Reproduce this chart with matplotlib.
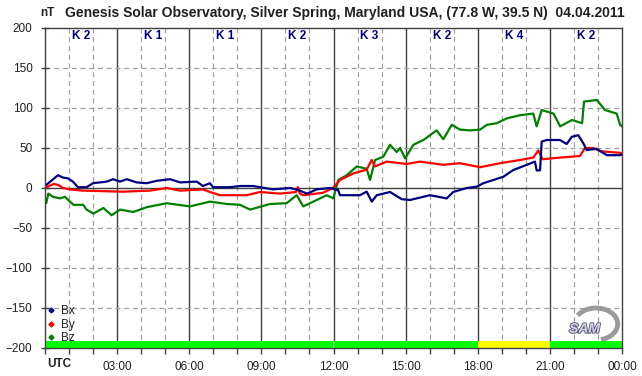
import matplotlib
matplotlib.use('Agg')
import matplotlib.pyplot as plt
import matplotlib.patheffects as pe
from matplotlib.patches import Arc

# Magnetometer traces (hours UTC, nT)
bx_hours = [0.0, 0.54, 0.75, 0.96, 1.16, 1.37, 1.73, 2.0, 2.57, 2.83, 3.12, 3.4, 3.81, 4.23, 4.65,
            5.2, 5.62, 6.31, 6.57, 6.86, 6.99, 7.7, 8.11, 8.65, 9.48, 10.19, 10.48, 10.9, 11.31,
            11.86, 12.19, 12.27, 13.1, 13.38, 13.59, 13.8, 14.35, 14.84, 15.18, 15.6, 16.01,
            16.71, 16.98, 17.54, 17.96, 18.23, 18.65, 19.06, 19.48, 20.04, 20.38, 20.45, 20.59,
            20.66, 20.87, 21.42, 21.7, 21.91, 22.18, 22.39, 22.53, 22.95, 23.37, 23.92, 24.0]
bx_values = [2.5, 16, 13, 12, 8, 1, 1, 6, 8, 11, 8, 11, 7, 6, 9,
             11, 7, 8, 2.5, 6, 1, 1, 2.5, 2.5, -1.7, 0, -2, -7, -1.7,
             0, -2.5, -9, -9, -4.6, -17, -9, -5, -14, -15, -12, -9,
             -13, -5, 0, 1.7, 6, 10, 14, 22.5, 29, 33, 22, 22,
             58, 60, 60, 55, 64, 66, 56, 47.5, 49, 41, 41, 42]

by_hours = [0.0, 0.35, 0.54, 0.75, 1.04, 1.58, 3.24, 4.37, 5.06, 5.62, 6.57, 6.86, 7.28, 8.39,
            8.94, 9.78, 10.44, 10.52, 10.6, 10.73, 11.56, 11.98, 12.27, 12.81, 13.38, 13.59,
            13.73, 14.21, 15.05, 15.6, 16.56, 17.26, 18.1, 18.93, 19.76, 20.31, 20.52, 20.7,
            21.42, 22.25, 22.46, 22.8, 23.09, 23.92, 24.0]
by_values = [0, 5, 4, 0, -1.7, -3.3, -4.6, -3.3, 0, -3.3, -1.7, -5, -9, -9,
             -5, -7, -5, 1, -7, -9, -6, 0, 10, 18, 23, 35,
             27, 33, 30, 33, 29, 31, 26, 31, 35, 38, 47, 36,
             38, 40, 50, 50, 46, 44, 43]

bz_hours = [0.0, 0.05, 0.14, 0.33, 0.62, 0.83, 1.18, 1.59, 1.73, 2.01, 2.43, 2.77, 3.12, 3.67,
            4.23, 5.06, 6.03, 6.86, 7.56, 8.11, 8.53, 9.36, 10.05, 10.47, 10.74, 11.3, 11.72,
            11.99, 12.2, 12.55, 12.97, 13.38, 13.52, 13.73, 14.07, 14.35, 14.63, 14.77, 14.98,
            15.32, 15.74, 16.29, 16.57, 16.92, 17.26, 17.68, 18.1, 18.38, 18.79, 19.21, 19.76,
            20.31, 20.45, 20.66, 21.15, 21.43, 21.92, 22.34, 22.42, 22.95, 23.29, 23.78, 23.92,
            24.0]
bz_values = [-13, -19, -7, -11, -13, -11, -21, -21, -27, -32, -25, -34, -27, -30,
             -24, -19, -23, -17, -20, -21, -27, -20, -19, -9, -23, -15, -9,
             -13, 10, 16, 27, 24, 10, 35, 39, 54, 45, 50, 37,
             54, 60, 72, 61, 79, 73, 72, 73, 79, 81, 87, 91,
             93, 77, 97.5, 93, 77, 85, 81, 108, 110, 97.5, 93, 79,
             77]

# Planetary K index per 3-hour block
k_starts = [0, 3, 6, 9, 12, 15, 18, 21]
k_index = [2, 1, 1, 2, 3, 2, 4, 2]

x_labels = ['', '03:00', '06:00', '09:00', '12:00', '15:00', '18:00', '21:00', '00:00']
y_ticks = list(range(-200, 201, 50))

plt.rcParams['font.family'] = ['Liberation Sans', 'DejaVu Sans']

fig = plt.figure(figsize=(6.42, 3.76), dpi=100, facecolor='white')
ax = fig.add_axes([45 / 642, 28 / 376, 577 / 642, 320 / 376])
ax.set_xlim(0, 24)
ax.set_ylim(-200, 200)

# grid: dashed every hour / 50 nT, solid every 3 h and at zero
for h in range(1, 24):
    if h % 3:
        ax.axvline(h, color='#a0a0a0', lw=0.9, ls=(0, (4, 3)), zorder=1)
    else:
        ax.axvline(h, color='#404040', lw=1.0, zorder=1)
for v in y_ticks[1:-1]:
    if v:
        ax.axhline(v, color='#a0a0a0', lw=0.9, ls=(0, (4, 3)), zorder=1)
ax.axhline(0, color='#404040', lw=1.0, zorder=1)

# K-index status strip at the bottom
bar_colors = ['#ffff00' if k >= 4 else '#00ff00' for k in k_index]
ax.bar(k_starts, 8.75, width=3, bottom=-200, align='edge', color=bar_colors, lw=0, zorder=2)

ax.plot(bz_hours, bz_values, color='#008000', lw=1.6, zorder=3)
ax.plot(by_hours, by_values, color='#ff0000', lw=1.6, zorder=4)
ax.plot(bx_hours, bx_values, color='#000080', lw=1.6, zorder=5)

for s, k in zip(k_starts, k_index):
    ax.text(s + 1.5, 190, f'K {k}', ha='center', va='center', color='#000080',
            fontsize=8.5, fontweight='bold', zorder=6,
            bbox=dict(facecolor='white', edgecolor='none', pad=1.2))

for sp in ax.spines.values():
    sp.set_color('#404040')
    sp.set_linewidth(1.0)
    sp.set_zorder(7)

ax.set_xticks(range(0, 25))
ax.set_xticklabels([x_labels[h // 3] if h % 3 == 0 else '' for h in range(0, 25)])
ax.set_yticks(y_ticks)
ax.tick_params(axis='x', direction='out', length=4, width=1, color='#404040',
               labelsize=8.5, labelcolor='#202020', pad=5)
ax.tick_params(axis='y', direction='inout', length=6, width=1, color='#404040',
               labelsize=8.5, labelcolor='#202020', pad=6)
ax.text(0.1, -212, 'UTC', ha='left', va='top', fontsize=8.5, fontweight='bold', color='#202020')

# legend (order Bx, By, Bz)
leg_handles = []
for lab, col in [('Bx', '#000080'), ('By', '#ff0000'), ('Bz', '#008000')]:
    h, = ax.plot([], [], ls='none', marker='D', ms=2.5, color=col, label=lab)
    leg_handles.append(h)
ax.legend(handles=leg_handles, loc='lower left', bbox_to_anchor=(-0.012, -0.014), frameon=False,
          fontsize=8.5, handlelength=0.8, handletextpad=0.4, labelspacing=0.12, borderpad=0.2,
          labelcolor='#202020')

# SAM logo
ax.add_patch(Arc((0.955, 0.075), 0.075, 0.1, theta1=-80, theta2=140, transform=ax.transAxes,
                 color='#9a9a9a', lw=3.5, zorder=6))
ax.text(0.935, 0.06, 'SAM', transform=ax.transAxes, ha='center', va='center', fontsize=10,
        style='italic', fontweight='bold', color='#d8d8e4', zorder=7,
        path_effects=[pe.withStroke(linewidth=1.3, foreground='#55557a')])

fig.text(345 / 642, 1 - 13 / 376, 'Genesis Solar Observatory, Silver Spring, Maryland USA, (77.8 W, 39.5 N)  04.04.2011',
         ha='center', va='center', fontsize=10, fontweight='bold', color='#202020')
fig.text(47 / 642, 1 - 13 / 376, 'nT', ha='center', va='center', fontsize=8.5, fontweight='bold',
         color='#202020')

fig.savefig('out.png', dpi=100, facecolor='white')
